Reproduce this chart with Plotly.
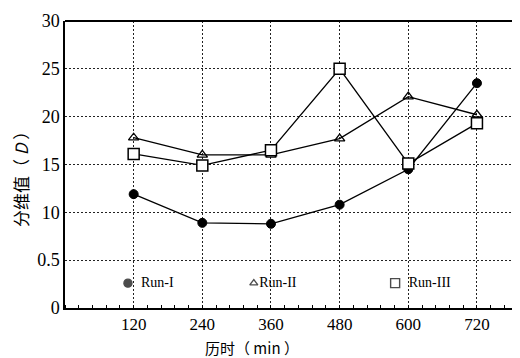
import plotly.graph_objects as go

times = [120, 240, 360, 480, 600, 720]
run_i = [11.9, 8.9, 8.8, 10.8, 14.5, 23.5]
run_ii = [17.8, 16.0, 16.0, 17.7, 22.1, 20.2]
run_iii = [16.1, 14.9, 16.5, 25.0, 15.1, 19.3]
names = ["Run-I", "Run-II", "Run-III"]
y_tickvals = [0, 5, 10, 15, 20, 25, 30]
y_ticktext = ["0", "0.5", "10", "15", "20", "25", "30"]

serif = "Liberation Serif, Times New Roman, serif"
cjk = "Noto Sans CJK SC"
fig = go.Figure()

styles = [
    dict(symbol="circle", color="black", size=9, line=dict(color="black", width=1)),
    dict(symbol="triangle-up-open", color="black", size=9, line=dict(color="black", width=1.3)),
    dict(symbol="square", color="white", size=11, line=dict(color="black", width=1.5)),
]
for ys, st in zip([run_i, run_ii, run_iii], styles):
    fig.add_trace(go.Scatter(x=times, y=ys, mode="lines+markers",
                             line=dict(color="black", width=1.3),
                             marker=st, showlegend=False))

# legend drawn as marker + text inside the plot area
leg_x = [110, 330, 577]
leg_y = 2.6
fig.add_trace(go.Scatter(x=leg_x, y=[leg_y] * 3, mode="markers+text",
                         marker=dict(symbol=["circle", "triangle-up-open", "square-open"],
                                     color="black", size=[8, 7, 9],
                                     line=dict(color="black", width=1.4)),
                         text=["  " + n if i != 1 else n for i, n in enumerate(names)],
                         textposition="middle right",
                         textfont=dict(family=serif, size=14, color="black"),
                         showlegend=False, cliponaxis=False))

fig.update_layout(
    width=512, height=350,
    margin=dict(l=57, r=3, t=13, b=50),
    paper_bgcolor="white", plot_bgcolor="white",
    font=dict(family=serif, color="black", size=16),
    xaxis=dict(range=[0, 790], tickvals=times, ticktext=[str(t) for t in times],
               showgrid=True, gridcolor="#222", griddash="2px,2px", gridwidth=1,
               showline=True, linecolor="black", linewidth=1.5,
               ticks="", zeroline=False, tickfont=dict(family=serif, size=17, color="black"),
               minor=dict(dtick=24, tick0=0, ticks="inside", ticklen=3, tickcolor="black", showgrid=False)),
    yaxis=dict(range=[0, 30], tickvals=y_tickvals, ticktext=y_ticktext,
               showgrid=True, gridcolor="#222", griddash="2px,2px", gridwidth=1,
               showline=True, linecolor="black", linewidth=1.5,
               ticks="", zeroline=False, tickfont=dict(family=serif, size=18, color="black")),
)
fig.add_annotation(text="历时（ min ）", xref="paper", yref="paper", x=0.414, y=0,
                   yshift=-39, showarrow=False, xanchor="center", yanchor="middle",
                   font=dict(family=cjk, size=15, color="black"))
fig.add_annotation(text="分维值（ <i>D</i> ）", xref="paper", yref="paper", x=0, y=0.463,
                   xshift=-45, showarrow=False, textangle=-90, xanchor="center", yanchor="middle",
                   font=dict(family=cjk, size=17, color="black"))
fig.add_shape(type="line", xref="paper", yref="paper", x0=0, x1=1, y0=1, y1=1,
              line=dict(color="black", width=2))
fig.write_html("out.html")
